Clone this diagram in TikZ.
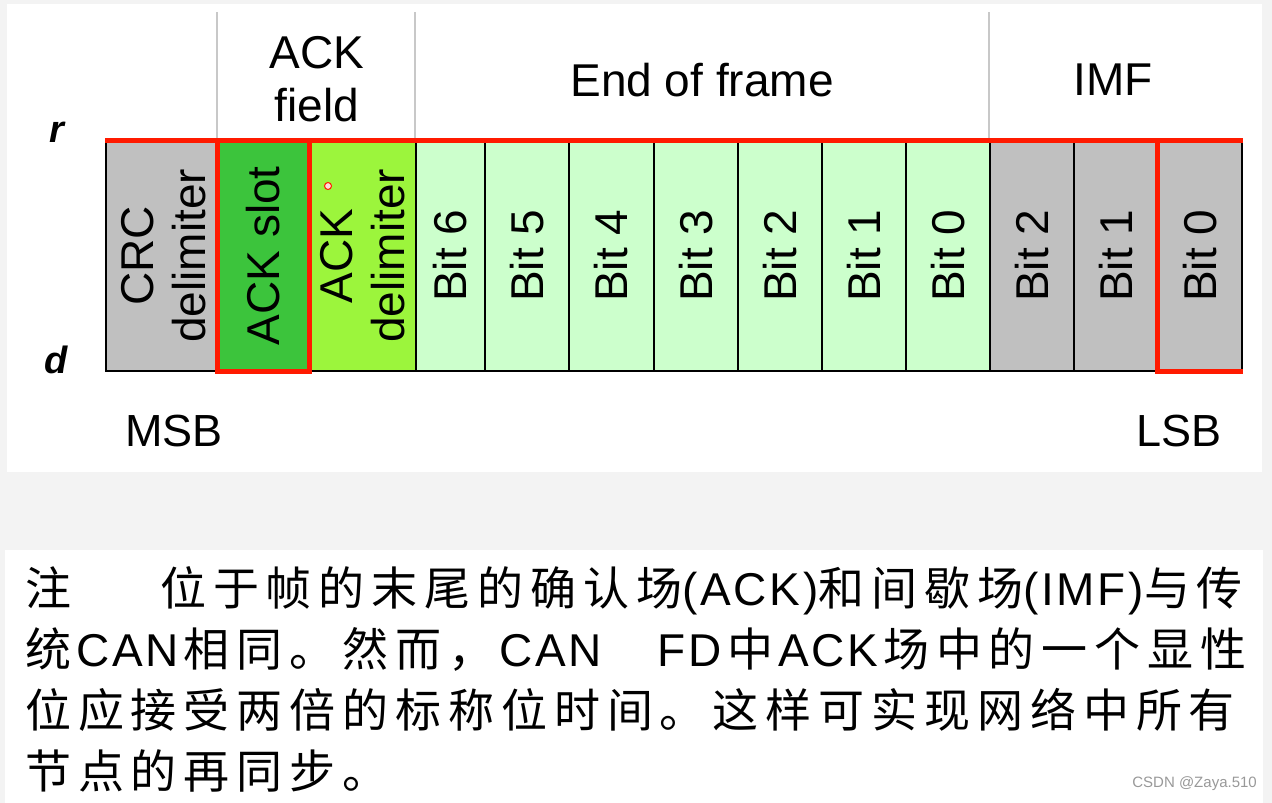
\documentclass[tikz,border=0pt]{standalone}
\usepackage{fontspec}
\setmainfont{Liberation Sans}
\newfontfamily\cjk[LetterSpace=15]{Noto Sans CJK SC}
\newfontfamily\latf[LetterSpace=6]{Liberation Sans}
\newcommand{\latseg}[1]{\hspace{5pt}{\latf #1}\hspace{5pt}}
\definecolor{bgc}{HTML}{F3F3F3}
\definecolor{grayc}{HTML}{C0C0C0}
\definecolor{slotg}{HTML}{3CC43C}
\definecolor{delg}{HTML}{9CF53C}
\definecolor{lightg}{HTML}{CCFFCC}
\definecolor{redc}{HTML}{FF1A00}
\definecolor{divc}{HTML}{C8C8C8}
\definecolor{wmc}{HTML}{999999}
\tikzset{
  bitbox/.style={draw=black, line width=1.5pt, anchor=north west, minimum height=230pt, inner sep=0pt},
  vlab/.style={rotate=90, font=\fontsize{46}{52}\selectfont, align=center, inner sep=0pt},
  hlab/.style={font=\fontsize{46}{53}\selectfont, align=center, inner sep=0pt},
  redl/.style={draw=redc, line width=5pt},
  divider/.style={draw=divc, line width=1.5pt},
  cjkline/.style={anchor=base west, inner sep=0pt, font=\cjk\fontsize{46}{50}\selectfont},
}
\begin{document}
\begin{tikzpicture}[x=1pt,y=-1pt]
\useasboundingbox (0,0) rectangle (1272,803);
\fill[bgc] (0,0) rectangle (1272,803);
\fill[white] (7,4) rectangle (1262,472);
\fill[white] (5,550) rectangle (1263,803);

% boxes
\node[bitbox, fill=grayc, minimum width=112pt] (crc) at (105,140) {};
\node[bitbox, fill=slotg, minimum width=91pt] (slot) at (217,140) {};
\node[bitbox, fill=delg, minimum width=107pt] (adel) at (308,140) {};
\node[bitbox, fill=lightg, minimum width=69pt] (e6) at (415,140) {};
\node[bitbox, fill=lightg, minimum width=84pt] (e5) at (484,140) {};
\node[bitbox, fill=lightg, minimum width=85pt] (e4) at (568,140) {};
\node[bitbox, fill=lightg, minimum width=84pt] (e3) at (653,140) {};
\node[bitbox, fill=lightg, minimum width=84pt] (e2) at (737,140) {};
\node[bitbox, fill=lightg, minimum width=84pt] (e1) at (821,140) {};
\node[bitbox, fill=lightg, minimum width=84pt] (e0) at (905,140) {};
\node[bitbox, fill=grayc, minimum width=84pt] (i2) at (989,140) {};
\node[bitbox, fill=grayc, minimum width=84pt] (i1) at (1073,140) {};
\node[bitbox, fill=grayc, minimum width=84pt] (i0) at (1157,140) {};

% box labels
\node[vlab] (crct) at ([xshift=2pt]crc.center) {CRC\\delimiter};
\node[vlab] (slott) at (slot.center) {ACK slot};
\node[vlab] (adelt) at (adel.center) {ACK\\delimiter};
\node[vlab] (e6t) at (e6.center) {Bit 6};
\node[vlab] (e5t) at (e5.center) {Bit 5};
\node[vlab] (e4t) at (e4.center) {Bit 4};
\node[vlab] (e3t) at (e3.center) {Bit 3};
\node[vlab] (e2t) at (e2.center) {Bit 2};
\node[vlab] (e1t) at (e1.center) {Bit 1};
\node[vlab] (e0t) at (e0.center) {Bit 0};
\node[vlab] (i2t) at (i2.center) {Bit 2};
\node[vlab] (i1t) at (i1.center) {Bit 1};
\node[vlab] (i0t) at (i0.center) {Bit 0};

% header dividers
\coordinate (d1) at (217,12);
\coordinate (d2) at (415,12);
\coordinate (d3) at (989,12);
\draw[divider] (d1) -- (slot.north west);
\draw[divider] (d2) -- (e6.north west);
\draw[divider] (d3) -- (i2.north west);

% header labels
\node[hlab] (ackf) at (317,79) {ACK\\field};
\node[hlab] (eof) at (702,80) {End of frame};
\node[hlab] (imf) at (1113,80) {IMF};

% red highlight
\draw[redl] (crc.north west) -- (i0.north east);
\draw[redl, line join=miter] (slot.north west) rectangle (slot.south east);
\draw[redl, line join=miter] (i0.north west) -- (i0.south west) -- (i0.south east);
\draw[redc, line width=1pt, fill=redc!15] (328,186) circle (3.5);

% side labels
\node[inner sep=0pt, font=\bfseries\itshape\fontsize{38}{40}\selectfont] (r) at (57,132) {r};
\node[inner sep=0pt, font=\bfseries\itshape\fontsize{38}{40}\selectfont] (d) at (56,360) {d};
\node[inner sep=0pt, font=\fontsize{45}{50}\selectfont] (msb) at (174,431) {MSB};
\node[inner sep=0pt, font=\fontsize{45}{50}\selectfont] (lsb) at (1179,431) {LSB};

% note text
\node[cjkline] (n0) at (25,605) {注};
\node[cjkline] (n1) at (160,605) {位于帧的末尾的确认场{\latf (ACK)}和间歇场{\latf (IMF)}与传};
\node[cjkline] (n2) at (25,666) {统\latseg{CAN}相同。然而，\latseg{CAN}　\latseg{FD}中\latseg{ACK}场中的一个显性};
\node[cjkline] (n3) at (25,727) {位应接受两倍的标称位时间。这样可实现网络中所有};
\node[cjkline] (n4) at (25,788) {节点的再同步。};

% watermark
\node[anchor=east, inner sep=0pt, text=wmc, font=\fontsize{15}{16}\selectfont] (wm) at (1257,784) {CSDN @Zaya.510};
\end{tikzpicture}
\end{document}
